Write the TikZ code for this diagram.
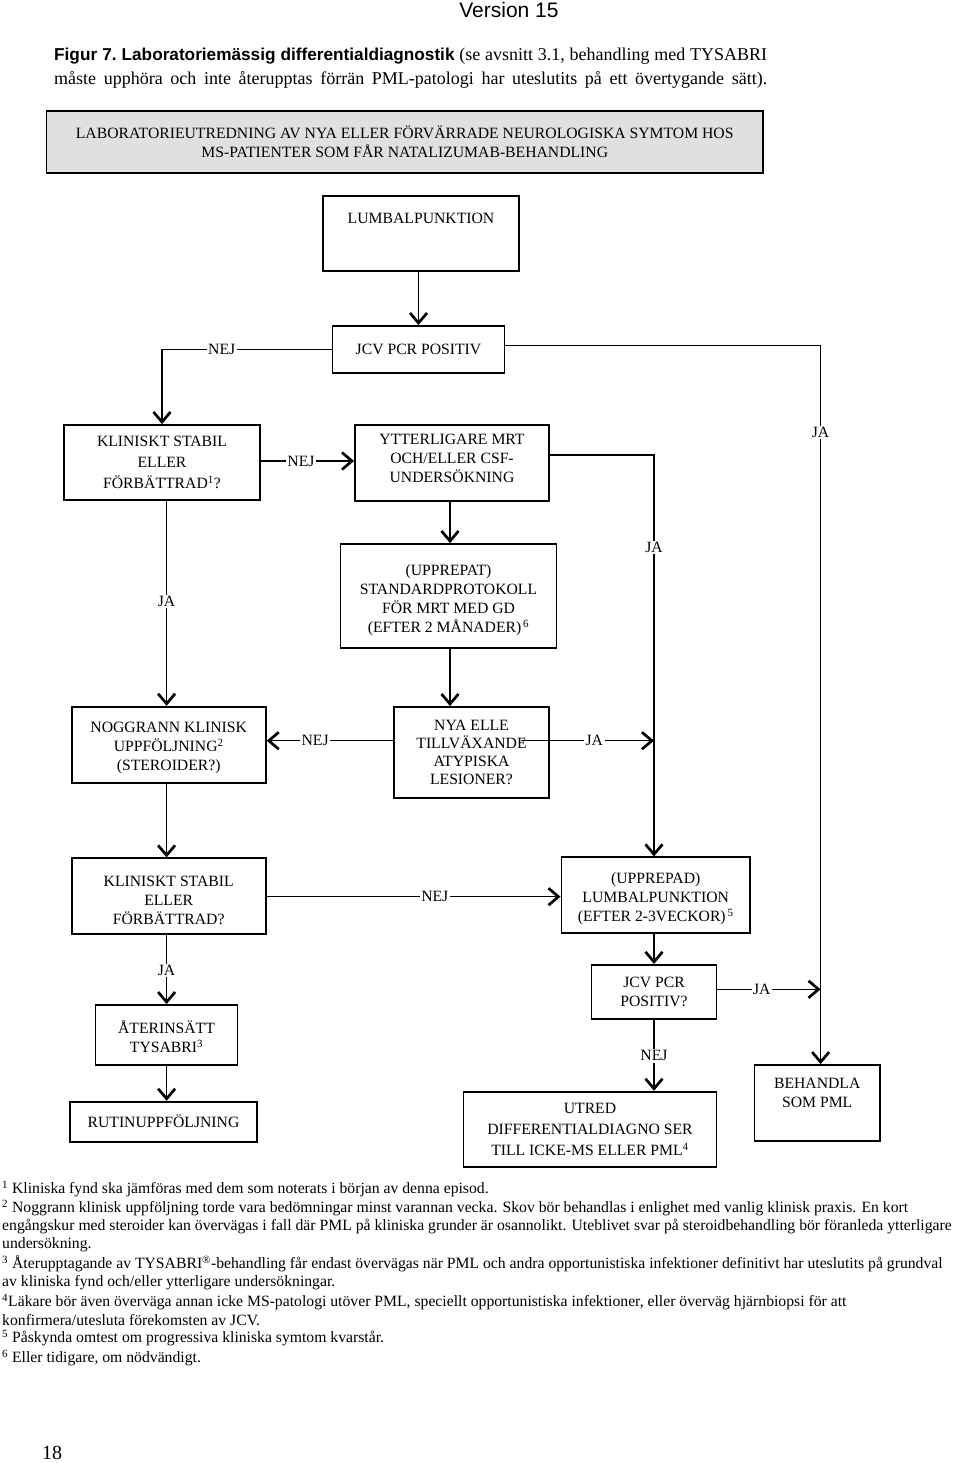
\documentclass[tikz,border=0pt]{standalone}
\usepackage{fontspec}
\setmainfont{Liberation Serif}
\newfontfamily\arialf{Liberation Sans}
\usetikzlibrary{arrows.meta}
\definecolor{boxgrey}{RGB}{224,224,224}
\newcommand\bxf{\fontsize{15.7}{19}\selectfont}
\newcommand\bxfw{\fontsize{15.7}{21.3}\selectfont}
\newcommand\bxfn{\fontsize{15.7}{18}\selectfont}
\newcommand\capf{\fontsize{18}{24}\selectfont}
\begin{document}
\begin{tikzpicture}[x=1pt,y=-1pt,
  box/.style={draw, line width=1.8pt, inner sep=0pt, align=center, font=\bxf},
  conn/.style={line width=1.4pt},
  arr/.style={conn, -{Straight Barb[length=10pt,width=17pt,line width=2.7pt]}},
  lbl/.style={fill=white, inner sep=1.5pt, font=\bxf},
  txt/.style={align=center, font=\bxf, inner sep=0pt},
  fn/.style={anchor=west, inner sep=0pt, font=\bxf},
]
\fill[white] (0,0) rectangle (960,1463);
\useasboundingbox (0,0) rectangle (960,1463);

% header
\node[font=\arialf\fontsize{21}{24}\selectfont, inner sep=0pt] (ver) at (509,10) {Version 15};
\node[anchor=north west, inner sep=0pt, text width=713pt, align=justify, font=\capf] (cap) at (54,48)
 {\frenchspacing\parfillskip=0pt {\arialf\bfseries\fontsize{17.2}{24}\selectfont Figur 7. Laboratoriemässig differentialdiagnostik} (se avsnitt 3.1, behandling med TYSABRI\linebreak måste upphöra och inte återupptas förrän PML-patologi har uteslutits på ett övertygande sätt).\par};

% boxes
\node[box, fill=boxgrey, minimum width=716.5pt, minimum height=62pt] (top) at (404.75,142)
 {LABORATORIEUTREDNING AV NYA ELLER FÖRVÄRRADE NEUROLOGISKA SYMTOM HOS\\MS-PATIENTER SOM FÅR NATALIZUMAB-BEHANDLING};
\node[box, minimum width=196pt, minimum height=75pt] (lp) at (421,233.5) {};
\node[txt] (lpt) at (421,218) {LUMBALPUNKTION};
\node[box, minimum width=172pt, minimum height=46.7pt] (jcva) at (418.5,349.3) {JCV PCR POSITIV};
\node[box, minimum width=196pt, minimum height=75pt, font=\bxfw] (ksa) at (162,462.5) {KLINISKT STABIL\\ELLER\\FÖRBÄTTRAD\textsuperscript{1}?};
\node[box, minimum width=194pt, minimum height=75.7pt] (ytt) at (452,463) {};
\node[txt] (yttt) at (452,458) {YTTERLIGARE MRT\\OCH/ELLER CSF-\\UNDERSÖKNING};
\node[box, minimum width=216pt, minimum height=104pt] (std) at (448.5,596) {};
\node[txt] (stdt) at (448.5,600) {(UPPREPAT)\\STANDARDPROTOKOLL\\FÖR MRT MED GD\\(EFTER 2 MÅNADER)\textsuperscript{\,6}};
\node[box, minimum width=194.2pt, minimum height=76pt] (nog) at (168.7,744.7) {};
\node[txt] (nogt) at (168.7,748) {NOGGRANN KLINISK\\UPPFÖLJNING\textsuperscript{2}\\(STEROIDER?)};
\node[box, minimum width=155.5pt, minimum height=90.7pt, font=\bxfn] (nya) at (471.5,752.3) {NYA ELLE\\TILLVÄXANDE\\ATYPISKA\\LESIONER?};
\node[box, minimum width=194.2pt, minimum height=76pt] (ksb) at (168.7,896.3) {};
\node[txt] (ksbt) at (168.7,900) {KLINISKT STABIL\\ELLER\\FÖRBÄTTRAD?};
\node[box, minimum width=188.5pt, minimum height=76pt] (upp) at (655.7,895.3) {};
\node[txt] (uppt) at (655.7,899) {(UPPREPAD)\\LUMBALPUNKTION\\(EFTER 2-3VECKOR)\textsuperscript{\,5}};
\node[box, minimum width=142pt, minimum height=60pt] (ater) at (166.5,1035) {};
\node[txt] (atert) at (166.5,1037) {ÅTERINSÄTT\\TYSABRI\textsuperscript{3}};
\node[box, minimum width=187.4pt, minimum height=40pt] (rut) at (163.5,1121.7) {RUTINUPPFÖLJNING};
\node[box, minimum width=125pt, minimum height=54.3pt] (jcvb) at (654,992) {JCV PCR\\POSITIV?};
\node[box, minimum width=125.6pt, minimum height=75.7pt] (beh) at (817.2,1102.9) {};
\node[txt] (beht) at (817.2,1093) {BEHANDLA\\SOM PML};
\node[box, minimum width=253pt, minimum height=75.6pt, font=\bxfw] (utr) at (590,1129.5) {UTRED\\DIFFERENTIALDIAGNO SER\\TILL ICKE-MS ELLER PML\textsuperscript{4}};

% trunk coordinates
\coordinate (xr) at (820.6,0);
\coordinate (xm) at (654,0);
\coordinate (xl) at (166.6,0);
\coordinate (xc) at (450,0);

% connectors
\draw[arr] (lp.south -| jcva.north) -- (jcva.north);
\draw[arr] (jcva.west) -- node[lbl,pos=0.648]{NEJ} (jcva.west -| ksa.north) -- (ksa.north);
\draw[arr] ([yshift=3.6pt]jcva.east) -- ([yshift=3.6pt]jcva.east -| xr) -- node[lbl,pos=0.121]{JA} (beh.north -| xr);
\draw[arr] ([yshift=1.5pt]ksa.east) -- node[lbl,pos=0.43]{NEJ} ([yshift=1.5pt]ksa.east -| ytt.west);
\draw[arr] (ksa.south -| xl) -- node[lbl,pos=0.49]{JA} (nog.north -| xl);
\draw[arr] (ytt.south -| xc) -- (std.north -| xc);
\draw[arr] ([yshift=8pt]ytt.east) -- ([yshift=8pt]ytt.east -| xm) -- node[lbl,pos=0.231]{JA} (upp.north -| xm);
\draw[arr] (std.south -| xc) -- (nya.north -| xc);
\draw[arr] ([yshift=11.6pt]nya.west) -- node[lbl,pos=0.616]{NEJ} ([yshift=11.6pt]nya.west -| nog.east);
\draw[arr] ([xshift=-28.8pt,yshift=11.6pt]nya.east) -- node[lbl,pos=0.55]{JA} ([yshift=11.6pt]nya.east -| xm);
\draw[arr] (nog.south -| xl) -- (ksb.north -| xl);
\draw[arr] ([yshift=-0.4pt]ksb.east) -- node[lbl,pos=0.572]{NEJ} ([yshift=-0.4pt]ksb.east -| upp.west);
\draw[arr] (ksb.south -| xl) -- node[lbl,pos=0.515]{JA} (ater.north -| xl);
\draw[arr] (ater.south -| xl) -- (rut.north -| xl);
\draw[arr] (upp.south -| xm) -- (jcvb.north -| xm);
\draw[arr] ([yshift=2.7pt]jcvb.east) -- node[lbl,pos=0.43]{JA} ([yshift=2.7pt]jcvb.east -| xr);
\draw[arr] (jcvb.south -| xm) -- node[lbl,pos=0.507]{NEJ} (utr.north -| xm);

% footnotes
\node[fn] (f1) at (2,1189) {\textsuperscript{1} Kliniska fynd ska jämföras med dem som noterats i början av denna episod.};
\node[fn] (f2) at (2,1208.3) {\textsuperscript{2} Noggrann klinisk uppföljning torde vara bedömningar minst varannan vecka. Skov bör behandlas i enlighet med vanlig klinisk praxis. En kort};
\node[fn] (f3) at (2,1226.7) {engångskur med steroider kan övervägas i fall där PML på kliniska grunder är osannolikt. Uteblivet svar på steroidbehandling bör föranleda ytterligare};
\node[fn] (f4) at (2,1245) {undersökning.};
\node[fn] (f5) at (2,1264) {\textsuperscript{3} Återupptagande av TYSABRI\textsuperscript{®}-behandling får endast övervägas när PML och andra opportunistiska infektioner definitivt har uteslutits på grundval};
\node[fn] (f6) at (2,1282.3) {av kliniska fynd och/eller ytterligare undersökningar.};
\node[fn] (f7) at (2,1301.7) {\textsuperscript{4}Läkare bör även överväga annan icke MS-patologi utöver PML, speciellt opportunistiska infektioner, eller överväg hjärnbiopsi för att};
\node[fn] (f8) at (2,1320) {konfirmera/utesluta förekomsten av JCV.};
\node[fn] (f9) at (2,1338.3) {\textsuperscript{5} Påskynda omtest om progressiva kliniska symtom kvarstår.};
\node[fn] (f10) at (2,1357.7) {\textsuperscript{6} Eller tidigare, om nödvändigt.};

\node[font=\fontsize{20}{22}\selectfont, inner sep=0pt] (pg) at (52,1453) {18};
\end{tikzpicture}
\end{document}
